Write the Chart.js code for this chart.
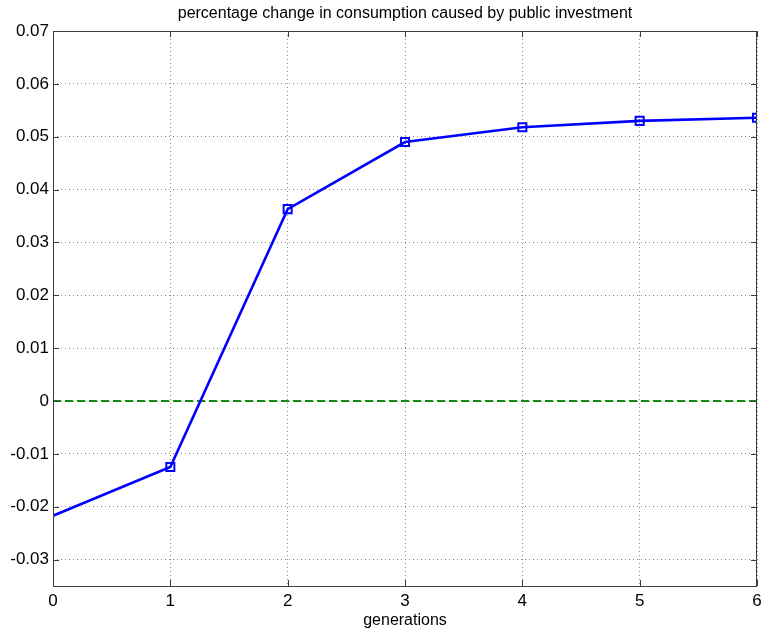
<!DOCTYPE html>
<html>
<head>
<meta charset="utf-8">
<script src="https://cdn.jsdelivr.net/npm/chart.js@4.4.1/dist/chart.umd.min.js"></script>
<style>
    html, body { margin: 0; padding: 0; background: #fff; }
    #wrap { width: 761px; height: 632px; }
</style>
</head>
<body>
<div id="wrap"><canvas id="report" width="761" height="632"></canvas></div>
<script>
const generations = [0, 1, 2, 3, 4, 5, 6];
const consumption = [-0.0217, -0.0125, 0.0363, 0.0490, 0.0518, 0.0530, 0.0536];
const zeroLine = [0, 0, 0, 0, 0, 0, 0];
const xTicks = [0, 1, 2, 3, 4, 5, 6];
const yTicks = [-0.03, -0.02, -0.01, 0, 0.01, 0.02, 0.03, 0.04, 0.05, 0.06, 0.07];
const chartTitle = "percentage change in consumption caused by public investment";
const xLabel = "generations";

const FONT = "'Liberation Sans', Arial, sans-serif";

// MATLAB style box, inward ticks and title centred over the plot area
const axesBox = {
    id: "axesBox",
    afterDatasetsDraw(chart) {
        const { ctx, chartArea: a, scales } = chart;
        ctx.save();
        ctx.strokeStyle = "#3c3c3c";
        ctx.lineWidth = 1;
        ctx.strokeRect(a.left + 0.5, a.top + 0.5, a.right - a.left - 1, a.bottom - a.top);
        ctx.beginPath();
        xTicks.forEach(v => {
            const px = Math.round(scales.x.getPixelForValue(v)) + 0.5;
            ctx.moveTo(px, a.bottom); ctx.lineTo(px, a.bottom - 6);
            ctx.moveTo(px, a.top); ctx.lineTo(px, a.top + 6);
        });
        yTicks.forEach(v => {
            const py = Math.round(scales.y.getPixelForValue(v)) + 0.5;
            ctx.moveTo(a.left, py); ctx.lineTo(a.left + 6, py);
            ctx.moveTo(a.right, py); ctx.lineTo(a.right - 6, py);
        });
        ctx.stroke();

        ctx.fillStyle = "#000";
        ctx.font = "16px " + FONT;
        ctx.textAlign = "center";
        ctx.textBaseline = "middle";
        ctx.fillText(chartTitle, (a.left + a.right) / 2, 14);
        ctx.restore();
    }
};

const ctx = document.getElementById("report").getContext("2d");
let myChart = new Chart(ctx, {
    type: "line",
    data: {
        datasets: [{
            label: "consumption",
            data: generations.map((g, i) => ({ x: g, y: consumption[i] })),
            borderColor: "#0000ff",
            borderWidth: 2.6,
            pointStyle: "rect",
            pointRadius: c => c.dataIndex === 0 ? 0 : 5.7,
            pointBorderWidth: 2,
            pointBorderColor: "#0000ff",
            pointBackgroundColor: "rgba(0,0,0,0)",
            tension: 0,
            order: 0
        }, {
            label: "zero",
            data: generations.map((g, i) => ({ x: g, y: zeroLine[i] })),
            borderColor: "#118a11",
            borderWidth: 2,
            borderDash: [8, 4],
            pointRadius: 0,
            order: 1
        }]
    },
    options: {
        responsive: false,
        animation: false,
        layout: { autoPadding: false, padding: { top: 31, right: 4, left: 0, bottom: 0 } },
        plugins: {
            legend: { display: false },
            tooltip: { enabled: false },
            title: { display: false }
        },
        scales: {
            x: {
                type: "linear",
                min: 0,
                max: 6,
                afterBuildTicks: s => { s.ticks = xTicks.map(v => ({ value: v })); },
                afterFit: s => { s.height = 46; s.paddingLeft = 0; s.paddingRight = 0; },
                grid: { color: "#8a8a8a", lineWidth: 1, drawTicks: false },
                border: { display: false, dash: [1, 3] },
                ticks: {
                    padding: 5,
                    color: "#000",
                    maxRotation: 0,
                    font: { family: FONT, size: 17 },
                    callback: v => String(v)
                },
                title: {
                    display: true,
                    text: xLabel,
                    color: "#000",
                    font: { family: FONT, size: 16 },
                    padding: { top: 0, bottom: 2 }
                }
            },
            y: {
                type: "linear",
                min: -0.035,
                max: 0.07,
                afterBuildTicks: s => { s.ticks = yTicks.map(v => ({ value: v })); },
                afterFit: s => { s.width = 53; s.paddingTop = 0; s.paddingBottom = 0; },
                grid: { color: "#8a8a8a", lineWidth: 1, drawTicks: false },
                border: { display: false, dash: [1, 3] },
                ticks: {
                    padding: 4,
                    color: "#000",
                    font: { family: FONT, size: 17 },
                    callback: v => v === 0 ? "0" : v.toFixed(2)
                }
            }
        }
    },
    plugins: [axesBox]
});
</script>
</body>
</html>
